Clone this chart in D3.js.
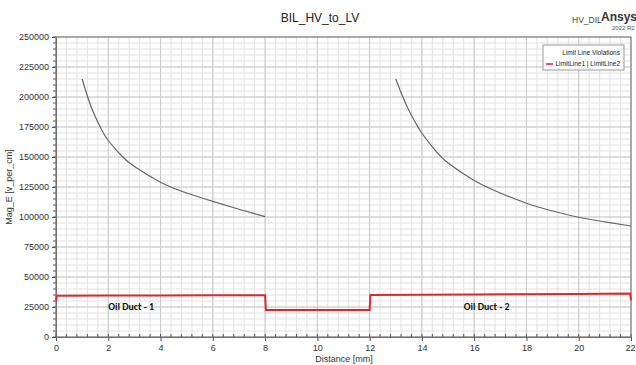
<!DOCTYPE html>
<html>
<head>
<meta charset="utf-8">
<script src="https://cdn.jsdelivr.net/npm/d3@7"></script>
<style>
  body { margin: 0; background: #fff; }
  text { font-family: "Liberation Sans", Arial, sans-serif; }
</style>
</head>
<body>
<div class="chart"></div>
<script>
// curve 1: left oil duct, Mag_E vs distance
const curve1X = [1, 1.25, 1.5, 1.75, 2, 2.5, 3, 4, 5, 6, 7, 8];
const curve1Y = [215000, 197500, 183750, 172500, 163750, 151250, 142000, 129000, 120000, 113000, 106500, 100300];
// curve 2: right oil duct
const curve2X = [13, 13.25, 13.5, 13.75, 14, 14.5, 15, 16, 17, 18, 19, 20, 21, 22];
const curve2Y = [215000, 201000, 189000, 178800, 169800, 155800, 145000, 130500, 120000, 111500, 105000, 99800, 96000, 92500];
// limit line (red)
const limitX = [0, 0.03, 2, 4, 6, 8, 8.03, 10, 12, 12.03, 16, 20, 21.97, 22];
const limitY = [30000, 34300, 34500, 34600, 34700, 34800, 22400, 22400, 22500, 35100, 35500, 35800, 36300, 30500];

const xTicks = [0, 2, 4, 6, 8, 10, 12, 14, 16, 18, 20, 22];
const yTicks = [0, 25000, 50000, 75000, 100000, 125000, 150000, 175000, 200000, 225000, 250000];

const width = 636, height = 365;
const marginTop = 37, marginBottom = 28, marginLeft = 56, marginRight = 5;
const w = width - marginLeft - marginRight;
const h = height - marginTop - marginBottom;

const svg = d3.select(".chart").append("svg")
  .attr("width", width)
  .attr("height", height);

const x = d3.scaleLinear().domain([0, 22]).range([0, w]);
const y = d3.scaleLinear().domain([0, 250000]).range([h, 0]);

const g = svg.append("g")
  .attr("transform", `translate(${marginLeft},${marginTop})`);

// minor grid
const xMinor = d3.range(0, 22.001, 0.4);
const yMinor = d3.range(0, 250001, 5000);
g.append("g").selectAll("line").data(xMinor).join("line")
  .attr("x1", d => x(d)).attr("x2", d => x(d))
  .attr("y1", 0).attr("y2", h)
  .attr("stroke", "#e3e3e3").attr("stroke-width", 1);
g.append("g").selectAll("line").data(yMinor).join("line")
  .attr("x1", 0).attr("x2", w)
  .attr("y1", d => y(d)).attr("y2", d => y(d))
  .attr("stroke", "#e3e3e3").attr("stroke-width", 1);
// major grid
g.append("g").selectAll("line").data(xTicks).join("line")
  .attr("x1", d => x(d)).attr("x2", d => x(d))
  .attr("y1", 0).attr("y2", h)
  .attr("stroke", "#c9c9c9").attr("stroke-width", 1);
g.append("g").selectAll("line").data(yTicks).join("line")
  .attr("x1", 0).attr("x2", w)
  .attr("y1", d => y(d)).attr("y2", d => y(d))
  .attr("stroke", "#c9c9c9").attr("stroke-width", 1);

// axes
const xAxis = d3.axisBottom(x).tickValues(xTicks).tickSize(4).tickPadding(4);
const yAxis = d3.axisLeft(y).tickValues(yTicks).tickFormat(d3.format("d")).tickSize(4).tickPadding(3);

const gx = g.append("g").attr("transform", `translate(0,${h})`).call(xAxis);
const gy = g.append("g").call(yAxis);
[gx, gy].forEach(a => {
  a.select(".domain").attr("stroke", "#666");
  a.selectAll(".tick line").attr("stroke", "#555");
  a.selectAll(".tick text").attr("fill", "#333").style("font-size", "9px");
});
gx.selectAll(".tick text").filter(d => d === 22).attr("dx", "-1");

// minor ticks (inside)
g.append("g").selectAll("line").data(xMinor).join("line")
  .attr("x1", d => x(d)).attr("x2", d => x(d))
  .attr("y1", h).attr("y2", h - 3)
  .attr("stroke", "#555");
g.append("g").selectAll("line").data(yMinor).join("line")
  .attr("x1", 0).attr("x2", -3)
  .attr("y1", d => y(d)).attr("y2", d => y(d))
  .attr("stroke", "#555");

// frame
g.append("rect").attr("width", w).attr("height", h)
  .attr("fill", "none").attr("stroke", "#777").attr("stroke-width", 1);

const smooth = d3.line().x(d => x(d[0])).y(d => y(d[1])).curve(d3.curveNatural);
const straight = d3.line().x(d => x(d[0])).y(d => y(d[1]));

g.append("path")
  .datum(d3.zip(curve1X, curve1Y))
  .attr("fill", "none").attr("stroke", "#666").attr("stroke-width", 1.2)
  .attr("d", smooth);
g.append("path")
  .datum(d3.zip(curve2X, curve2Y))
  .attr("fill", "none").attr("stroke", "#666").attr("stroke-width", 1.2)
  .attr("d", smooth);
g.append("path")
  .datum(d3.zip(limitX, limitY))
  .attr("fill", "none").attr("stroke", "#e0262b").attr("stroke-width", 2)
  .attr("d", straight);

// annotations
g.append("text").attr("x", x(2.0)).attr("y", y(25000) + 3)
  .style("font-family", "Carlito, 'Liberation Sans', sans-serif")
  .style("font-size", "10px").style("font-weight", "bold").attr("fill", "#111")
  .text("Oil Duct - 1");
g.append("text").attr("x", x(15.6)).attr("y", y(25000) + 3)
  .style("font-family", "Carlito, 'Liberation Sans', sans-serif")
  .style("font-size", "10px").style("font-weight", "bold").attr("fill", "#111")
  .text("Oil Duct - 2");

// labels
svg.append("text").attr("x", 320).attr("y", 22)
  .attr("text-anchor", "middle").style("font-size", "12px").attr("fill", "#222")
  .text("BIL_HV_to_LV");
svg.append("text").attr("x", 344).attr("y", 362)
  .attr("text-anchor", "middle").style("font-size", "9px").attr("fill", "#333")
  .text("Distance [mm]");
svg.append("text")
  .attr("transform", `translate(12,${marginTop + h / 2}) rotate(-90)`)
  .attr("text-anchor", "middle").style("font-size", "9px").attr("fill", "#333")
  .text("Mag_E [v_per_cm]");

// Ansys branding
svg.append("text").attr("x", 572).attr("y", 23)
  .style("font-size", "8.5px").attr("fill", "#444").text("HV_DIL");
svg.append("text").attr("x", 601).attr("y", 21)
  .style("font-size", "12px").style("font-weight", "bold").attr("fill", "#333").text("Ansys");
svg.append("text").attr("x", 612).attr("y", 30)
  .style("font-size", "6px").attr("fill", "#555").text("2022 R2");

// legend
const lg = svg.append("g").attr("transform", "translate(543,45)");
lg.append("rect").attr("width", 81).attr("height", 25)
  .attr("fill", "#fff").attr("stroke", "#999");
lg.append("text").attr("x", 77).attr("y", 10)
  .attr("text-anchor", "end").style("font-size", "6.5px").attr("fill", "#222")
  .text("Limit Line Violations");
lg.append("line").attr("x1", 3).attr("x2", 10).attr("y1", 19).attr("y2", 19)
  .attr("stroke", "#e0262b").attr("stroke-width", 1.5);
lg.append("text").attr("x", 77).attr("y", 21)
  .attr("text-anchor", "end").style("font-size", "6.5px").attr("fill", "#222")
  .text("LimitLine1 | LimitLine2");
</script>
</body>
</html>
